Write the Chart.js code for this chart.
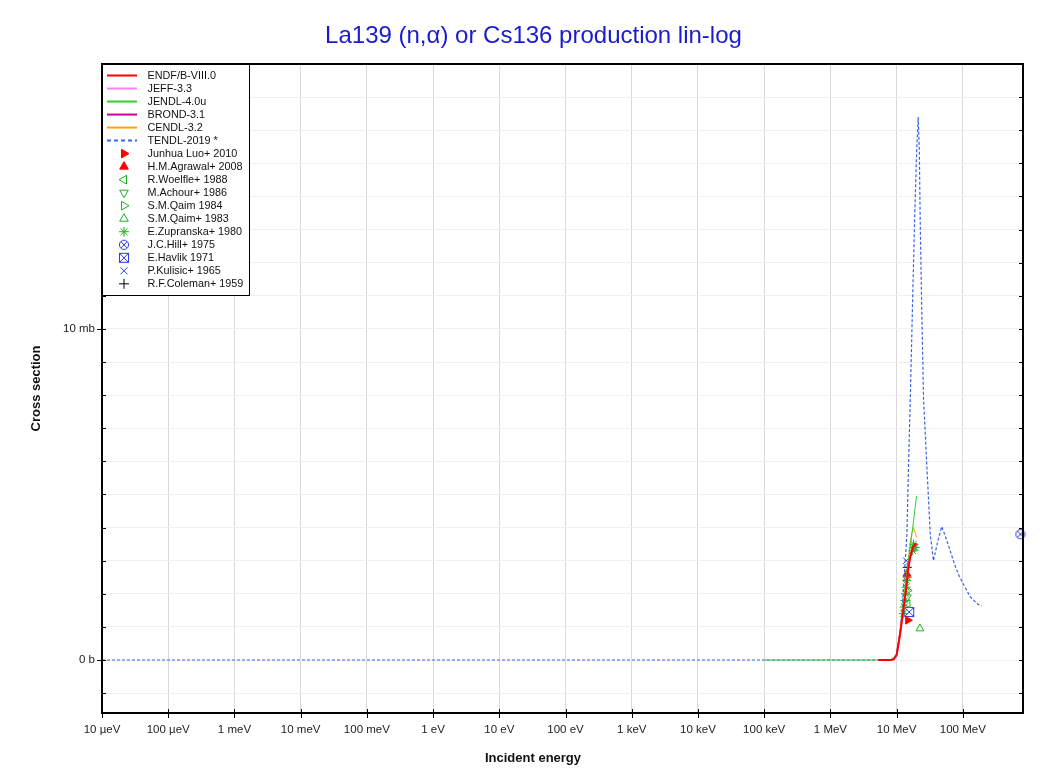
<!DOCTYPE html>
<html lang="en">
<head>
<meta charset="UTF-8">
<title>La139 (n,α) or Cs136 production lin-log</title>
<script src="https://cdn.jsdelivr.net/npm/chart.js"></script>
<style>
  html, body { margin: 0; padding: 0; background: #fff; }
</style>
</head>
<body>
<canvas id="xsChart" width="1049" height="774"></canvas>
<script>
// energies in eV, cross sections in mb
const xTickValues = [1e-5, 1e-4, 1e-3, 1e-2, 1e-1, 1, 10, 100, 1e3, 1e4, 1e5, 1e6, 1e7, 1e8]
const xTickLabels = ['10 µeV', '100 µeV', '1 meV', '10 meV', '100 meV', '1 eV', '10 eV', '100 eV', '1 keV', '10 keV', '100 keV', '1 MeV', '10 MeV', '100 MeV']
const yTickValues = [-1, 0, 1, 2, 3, 4, 5, 6, 7, 8, 9, 10, 11, 12, 13, 14, 15, 16, 17, 18]
const yTickLabels = { 0: '0 b', 10: '10 mb' }

// evaluated libraries
const endfE = [5.3e6, 8e6, 9e6, 1e7, 1.13e7, 1.2e7, 1.32e7, 1.4e7, 1.51e7, 1.6e7, 1.76e7, 2e7]
const endfXs = [0, 0, 0.02, 0.15, 0.8, 1.2, 1.8, 2.2, 2.8, 3.1, 3.4, 3.52]
const jeffE = [5.3e6, 8e6, 9e6, 1e7, 1.13e7, 1.2e7, 1.32e7, 1.4e7, 1.51e7, 1.6e7, 1.76e7, 2e7]
const jeffXs = [0, 0, 0.02, 0.14, 0.78, 1.18, 1.78, 2.18, 2.78, 3.08, 3.38, 3.5]
const jendlE = [1e5, 1e6, 5e6, 8e6, 9e6, 1e7, 1.1e7, 1.2e7, 1.3e7, 1.4e7, 1.5e7, 1.6e7, 1.7e7, 1.8e7, 1.9e7, 2e7]
const jendlXs = [0, 0, 0, 0.01, 0.06, 0.2, 0.7, 1.3, 1.9, 2.5, 3.0, 3.4, 3.8, 4.2, 4.6, 4.95]
const brondE = [5.3e6, 8e6, 9e6, 1e7, 1.13e7, 1.2e7, 1.32e7, 1.4e7, 1.51e7, 1.6e7, 1.76e7, 2e7]
const brondXs = [0, 0, 0.02, 0.16, 0.82, 1.22, 1.82, 2.22, 2.82, 3.12, 3.42, 3.52]
const cendlE = [5.3e6, 8e6, 9e6, 1e7, 1.1e7, 1.2e7, 1.3e7, 1.4e7, 1.5e7, 1.6e7, 1.7e7, 1.8e7, 1.9e7, 2e7]
const cendlXs = [0, 0, 0.03, 0.15, 0.7, 1.3, 1.9, 2.4, 3.0, 3.5, 3.85, 4.0, 3.85, 3.7]
const tendlE = [1e-5, 1e5, 5e6, 8e6, 9e6, 9.7e6, 1.01e7, 1.07e7, 1.13e7, 1.22e7, 1.35e7, 1.43e7, 1.51e7, 1.61e7, 1.75e7, 1.87e7, 2.0e7, 2.12e7, 2.2e7, 2.27e7, 2.4e7, 2.55e7, 2.87e7, 3.22e7, 3.6e7, 4.2e7, 4.8e7, 5.7e7, 7.2e7, 8.5e7, 1.0e8, 1.15e8, 1.29e8, 1.5e8, 1.7e8, 1.94e8]
const tendlXs = [0, 0, 0, 0.01, 0.04, 0.1, 0.2, 0.45, 0.8, 1.6, 3.0, 3.8, 5.8, 7.9, 11.0, 13.3, 15.3, 16.4, 15.4, 13.3, 10.5, 7.9, 5.8, 3.8, 3.0, 3.6, 4.03, 3.63, 3.0, 2.6, 2.32, 2.1, 1.91, 1.78, 1.68, 1.63]

// measurements
const luoE = [14.8e6]
const luoXs = [1.2]
const agrawalE = [14.3e6]
const agrawalXs = [2.6]
const woelfleE = [14.7e6]
const woelfleXs = [1.7]
const achourE = [14.5e6]
const achourXs = [1.9]
const qaim84E = [14.7e6]
const qaim84Xs = [2.1]
const qaim83E = [22.5e6]
const qaim83Xs = [0.95]
const zupranskaE = [12.6e6, 13.0e6, 13.3e6, 13.6e6, 13.9e6, 14.2e6, 14.5e6, 17.5e6, 18.0e6, 18.5e6, 19.0e6]
const zupranskaXs = [1.4, 1.6, 1.8, 2.0, 2.2, 2.4, 2.5, 3.3, 3.5, 3.4, 3.4]
const hillE = [740e6]
const hillXs = [3.8]
const havlikE = [15.5e6]
const havlikXs = [1.45]
const kulisicE = [14.0e6]
const kulisicXs = [3.0]
const colemanE = [14.5e6]
const colemanXs = [2.8]

const FONT = '"Liberation Sans", Arial, sans-serif'
const GREEN = '#1fae1f'
const BLUE = '#2a3cf0'

const pairs = (xs, ys) => xs.map((x, i) => ({ x, y: ys[i] }))

// markers the library has no shape for
function markerCanvas(kind, color) {
  const c = document.createElement('canvas')
  c.width = 12
  c.height = 12
  const g = c.getContext('2d')
  g.strokeStyle = color
  g.lineWidth = 1
  if (kind === 'circle') {
    g.beginPath(); g.arc(6, 6, 4.6, 0, Math.PI * 2); g.stroke()
    g.beginPath(); g.moveTo(2.9, 2.9); g.lineTo(9.1, 9.1); g.moveTo(9.1, 2.9); g.lineTo(2.9, 9.1); g.stroke()
  } else {
    g.strokeRect(1.5, 1.5, 9, 9)
    g.beginPath(); g.moveTo(1.5, 1.5); g.lineTo(10.5, 10.5); g.moveTo(10.5, 1.5); g.lineTo(1.5, 10.5); g.stroke()
  }
  return c
}

function lineSet(label, xs, ys, color, width, dash) {
  return {
    label, data: pairs(xs, ys), showLine: true, borderColor: color, backgroundColor: color,
    borderWidth: width, borderDash: dash || [], pointRadius: 0, tension: 0
  }
}

function pointSet(label, xs, ys, style, color, fill, rotation) {
  return {
    label, data: pairs(xs, ys), showLine: false, pointStyle: style, pointRotation: rotation || 0,
    borderColor: color, backgroundColor: fill, pointBorderColor: color, pointBackgroundColor: fill,
    pointRadius: 4.5, pointBorderWidth: 1, clip: false
  }
}

const datasets = [
  lineSet('ENDF/B-VIII.0', endfE, endfXs, '#ff0000', 2),
  lineSet('JEFF-3.3', jeffE, jeffXs, '#ff80ff', 1.5),
  lineSet('JENDL-4.0u', jendlE, jendlXs, '#33cc33', 1),
  lineSet('BROND-3.1', brondE, brondXs, '#cc0099', 1.5),
  lineSet('CENDL-3.2', cendlE, cendlXs, '#ffa500', 1),
  lineSet('TENDL-2019 *', tendlE, tendlXs, '#3a62e6', 1.2, [3, 2]),
  pointSet('Junhua Luo+ 2010', luoE, luoXs, 'triangle', '#ff0000', '#ff0000', 90),
  pointSet('H.M.Agrawal+ 2008', agrawalE, agrawalXs, 'triangle', '#ff0000', '#ff0000', 0),
  pointSet('R.Woelfle+ 1988', woelfleE, woelfleXs, 'triangle', GREEN, 'rgba(0,0,0,0)', 270),
  pointSet('M.Achour+ 1986', achourE, achourXs, 'triangle', GREEN, 'rgba(0,0,0,0)', 180),
  pointSet('S.M.Qaim 1984', qaim84E, qaim84Xs, 'triangle', GREEN, 'rgba(0,0,0,0)', 90),
  pointSet('S.M.Qaim+ 1983', qaim83E, qaim83Xs, 'triangle', GREEN, 'rgba(0,0,0,0)', 0),
  pointSet('E.Zupranska+ 1980', zupranskaE, zupranskaXs, 'star', GREEN, 'rgba(0,0,0,0)', 0),
  pointSet('J.C.Hill+ 1975', hillE, hillXs, markerCanvas('circle', BLUE), BLUE, 'rgba(0,0,0,0)', 0),
  pointSet('E.Havlik 1971', havlikE, havlikXs, markerCanvas('box', BLUE), BLUE, 'rgba(0,0,0,0)', 0),
  pointSet('P.Kulisic+ 1965', kulisicE, kulisicXs, 'crossRot', BLUE, 'rgba(0,0,0,0)', 0),
  pointSet('R.F.Coleman+ 1959', colemanE, colemanXs, 'cross', '#000000', 'rgba(0,0,0,0)', 0)
]

// frame, tick marks, titles and the boxed legend in the top left corner
const framePlugin = {
  id: 'frame',
  afterDraw(chart) {
    const { ctx, chartArea: a, scales } = chart
    ctx.save()
    ctx.strokeStyle = '#000'
    ctx.lineWidth = 1
    ctx.beginPath()
    xTickValues.forEach(v => {
      const px = Math.round(scales.x.getPixelForValue(v)) + 0.5
      ctx.moveTo(px, a.bottom - 4); ctx.lineTo(px, a.bottom + 5)
    })
    yTickValues.forEach(v => {
      const py = Math.round(scales.y.getPixelForValue(v)) + 0.5
      const major = yTickLabels[v] !== undefined
      ctx.moveTo(a.left - (major ? 5 : 0), py); ctx.lineTo(a.left + 4, py)
      ctx.moveTo(a.right - 4, py); ctx.lineTo(a.right, py)
    })
    ctx.stroke()
    ctx.lineWidth = 2
    ctx.strokeRect(a.left, a.top, a.right - a.left, a.bottom - a.top)

    ctx.textAlign = 'center'
    ctx.textBaseline = 'middle'
    ctx.fillStyle = '#1a1ad0'
    ctx.font = '24px ' + FONT
    ctx.fillText('La139 (n,α) or Cs136 production lin-log', 533.5, 36)
    ctx.fillStyle = '#111'
    ctx.font = 'bold 13px ' + FONT
    ctx.fillText('Incident energy', 533, 758)

    // legend
    const lx = a.left, ly = a.top, lw = 147, lh = 231
    ctx.fillStyle = '#fff'
    ctx.fillRect(lx, ly, lw, lh)
    ctx.lineWidth = 1
    ctx.strokeRect(lx + 0.5, ly + 0.5, lw, lh)
    ctx.font = '10.8px ' + FONT
    ctx.textBaseline = 'middle'
    ctx.textAlign = 'left'
    chart.data.datasets.forEach((ds, i) => {
      const y = ly + 11.5 + i * 13.02
      if (ds.showLine) {
        ctx.save()
        ctx.strokeStyle = ds.borderColor
        ctx.lineWidth = 2
        ctx.setLineDash(ds.borderDash.length ? [4, 3] : [])
        ctx.beginPath(); ctx.moveTo(lx + 5, y); ctx.lineTo(lx + 35, y); ctx.stroke()
        ctx.restore()
      } else {
        ctx.save()
        ctx.strokeStyle = ds.pointBorderColor
        ctx.fillStyle = ds.pointBackgroundColor
        ctx.lineWidth = 1
        Chart.helpers.drawPoint(ctx, { pointStyle: ds.pointStyle, rotation: ds.pointRotation, radius: 5, borderWidth: 1 }, lx + 22, y)
        ctx.restore()
      }
      ctx.fillStyle = '#111'
      ctx.fillText(ds.label, lx + 45.5, y + 0.5)
    })
    ctx.restore()
  }
}

new Chart(document.getElementById('xsChart'), {
  type: 'scatter',
  data: { datasets },
  plugins: [framePlugin],
  options: {
    responsive: false,
    animation: false,
    events: [],
    layout: { padding: { left: 0, right: 26, top: 64, bottom: 0 } },
    plugins: {
      legend: { display: false },
      tooltip: { enabled: false },
      title: { display: false }
    },
    scales: {
      x: {
        type: 'logarithmic',
        min: 1e-5,
        max: 8.1e8,
        afterBuildTicks: s => { s.ticks = xTickValues.map(v => ({ value: v })) },
        afterFit: s => { s.height = 61 },
        ticks: {
          autoSkip: false, maxRotation: 0, padding: 10, color: '#222',
          font: { family: FONT, size: 11.5 },
          callback: (v, i) => xTickLabels[i]
        },
        grid: { color: '#d9d9d9', lineWidth: 1, drawTicks: false },
        border: { display: true, color: '#000', width: 2 },
        title: { display: false }
      },
      y: {
        type: 'linear',
        min: -1.6,
        max: 18,
        afterBuildTicks: s => { s.ticks = yTickValues.map(v => ({ value: v })) },
        afterFit: s => { s.width = 102 },
        ticks: {
          padding: 7, color: '#222',
          font: { family: FONT, size: 11.5 },
          callback: v => yTickLabels[v] || ''
        },
        grid: { color: '#efefef', lineWidth: 1, drawTicks: false },
        border: { display: true, color: '#000', width: 2 },
        title: {
          display: true, text: 'Cross section', color: '#111',
          font: { family: FONT, size: 13, weight: 'bold' },
          padding: { top: 29, bottom: 0 }
        }
      }
    }
  }
})
</script>
</body>
</html>
